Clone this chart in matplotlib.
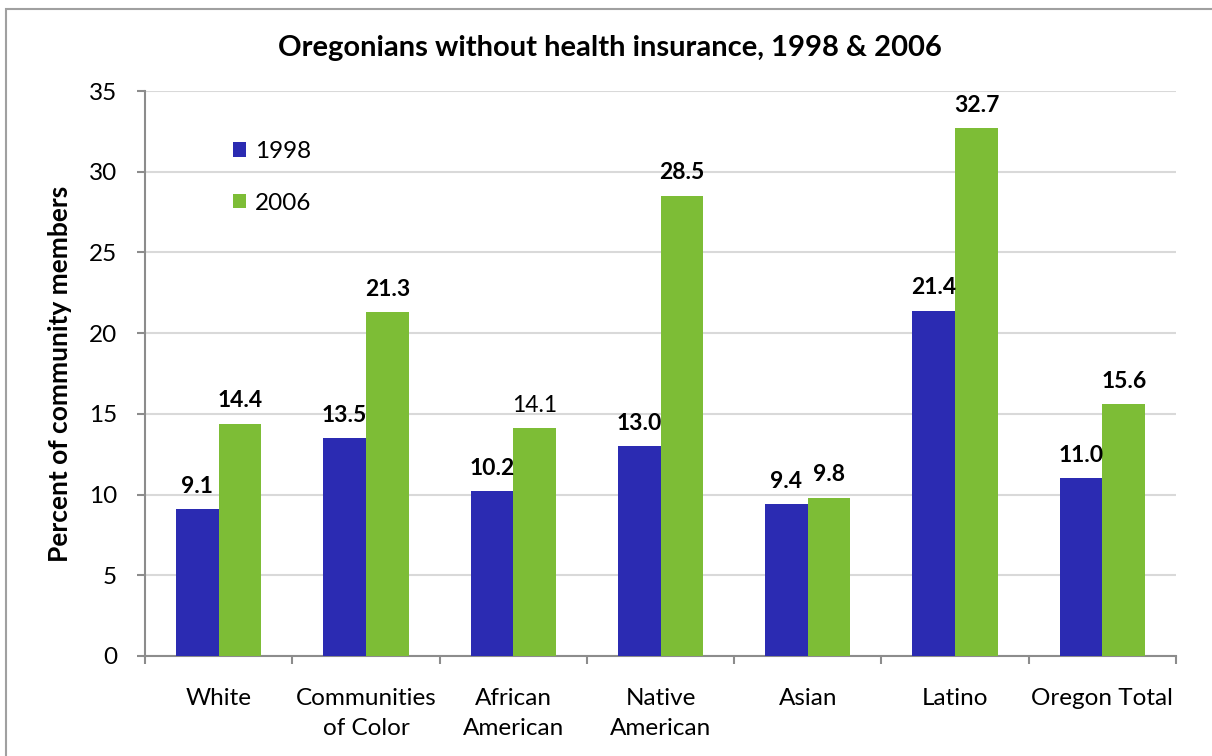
import matplotlib.pyplot as plt
import numpy as np

plt.rcParams['font.family'] = ['Lato', 'DejaVu Sans']

categories = ['White', 'Communities\nof Color', 'African\nAmerican', 'Native\nAmerican',
              'Asian', 'Latino', 'Oregon Total']
values_1998 = [9.1, 13.5, 10.2, 13.0, 9.4, 21.4, 11.0]
values_2006 = [14.4, 21.3, 14.1, 28.5, 9.8, 32.7, 15.6]
bold_1998 = [True, True, True, True, True, True, True]
bold_2006 = [True, True, False, True, True, True, True]

blue = '#2B2BB2'
green = '#7DBD36'
grey = '#8C8C8C'

fig = plt.figure(figsize=(12.12, 7.56), dpi=100)
ax = fig.add_axes([145 / 1212, 1 - 656 / 756, (1176 - 145) / 1212, (656 - 91) / 756])

# outer frame
fig.patches.append(plt.Rectangle((6 / 1212, -0.1), 1.1, 1 - 9 / 756 + 0.1,
                                 transform=fig.transFigure, fill=False,
                                 edgecolor='#A0A0A0', linewidth=1.5))

x = np.arange(len(categories))
w = 0.29
b1 = ax.bar(x - w / 2, values_1998, w, color=blue, label='1998', zorder=3)
b2 = ax.bar(x + w / 2, values_2006, w, color=green, label='2006', zorder=3)

for bars, vals, bolds in [(b1, values_1998, bold_1998), (b2, values_2006, bold_2006)]:
    for rect, v, bd in zip(bars, vals, bolds):
        ax.annotate(f'{v:.1f}', (rect.get_x() + rect.get_width() / 2, v),
                    xytext=(0, 9), textcoords='offset points', ha='center', va='bottom',
                    fontsize=16.5, fontweight='bold' if bd else 'normal', color='black')

ax.set_xlim(-0.5, len(categories) - 0.5)
ax.set_ylim(0, 35)
ax.set_yticks(range(0, 36, 5))
ax.yaxis.grid(True, color='#D9D9D9', linewidth=1.5, zorder=0)
ax.set_axisbelow(True)

ax.set_xticks(np.arange(len(categories) + 1) - 0.5)
ax.set_xticklabels([])
ax.set_xticks(x, minor=True)
ax.set_xticklabels(categories, minor=True, fontsize=17.5, linespacing=1.55)
ax.tick_params(axis='x', which='minor', length=0, pad=23)
ax.tick_params(axis='x', which='major', length=6, color=grey, width=1.5)
ax.tick_params(axis='y', length=6, color=grey, width=1.5, labelsize=17.5, pad=14)
for lbl in ax.get_xticklabels(minor=True):
    lbl.set_verticalalignment('top')

for s in ['top', 'right']:
    ax.spines[s].set_visible(False)
for s in ['left', 'bottom']:
    ax.spines[s].set_color(grey)
    ax.spines[s].set_linewidth(1.5)

ax.set_ylabel('Percent of community members', fontsize=19, fontweight='bold', labelpad=12)
fig.text(609.5 / 1212, 1 - 48 / 756, 'Oregonians without health insurance, 1998 & 2006',
         fontsize=21, fontweight='bold', ha='center', va='center')

ax.legend(loc='upper left', bbox_to_anchor=(0.064, 0.95), frameon=False, fontsize=17.5,
          handlelength=0.55, handleheight=0.55, handletextpad=0.35, labelspacing=1.25)

fig.savefig('out.png', dpi=100)
